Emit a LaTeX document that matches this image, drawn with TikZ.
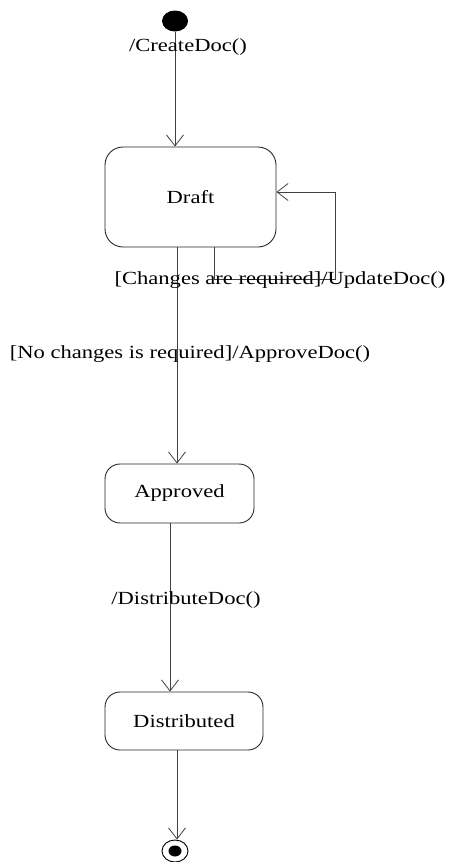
\documentclass[tikz,border=0pt]{standalone}
\usepackage{fontspec}
\setmainfont{Liberation Serif}[FakeStretch=1.22]
\usetikzlibrary{arrows.meta,calc,shapes.geometric}

\tikzset{
  statebox/.style={draw=black!85, line width=0.9pt, rounded corners=16pt,
    inner sep=0pt, font=\fontsize{18.5}{22}\selectfont},
  lbl/.style={inner sep=0pt, font=\fontsize{18.5}{22}\selectfont},
  conn/.style={draw=black!75, line width=0.8pt},
  arr/.style={conn, -{Straight Barb[length=11pt,width=17pt,line width=0.8pt]}},
}

\begin{document}
\begin{tikzpicture}[x=1pt,y=-1pt]
  \useasboundingbox (0,0) rectangle (448,862);

  % pseudo-states
  \node[ellipse, fill=black, minimum width=26pt, minimum height=21pt, inner sep=0pt] (init) at (175,21) {};
  \node[ellipse, draw=black, line width=0.9pt, minimum width=26pt, minimum height=22pt, inner sep=0pt] (final) at (175,851) {};
  \node[ellipse, fill=black, minimum width=13pt, minimum height=11pt, inner sep=0pt] (finaldot) at (final.center) {};

  % states
  \node[statebox, minimum width=171pt, minimum height=100pt, rounded corners=18pt] (draft) at (190.5,197) {Draft};
  \node[statebox, minimum width=149pt, minimum height=59pt, rounded corners=15pt] (approved) at (179.5,493.5) {Approved};
  \node[statebox, minimum width=158pt, minimum height=58pt, rounded corners=15pt] (distributed) at (184,721) {Distributed};

  % transitions
  \draw[arr] (init.south) -- (init.south |- draft.north);
  \draw[arr] ([xshift=-13.5pt]draft.south) -- ([xshift=-13.5pt]draft.south |- approved.north);
  \coordinate (loopc) at (335,279);
  \draw[arr] ([xshift=23.5pt]draft.south) |- (loopc) |- ([yshift=5pt]draft.east);
  \draw[arr] ([xshift=-9.5pt]approved.south) -- ([xshift=-9.5pt]approved.south |- distributed.north);
  \draw[arr] ([xshift=-7pt]distributed.south) -- ([xshift=-7pt]distributed.south |- final.north);

  % transition labels
  \node[lbl] (createlbl) at (188,47) {/CreateDoc()};
  \node[lbl, anchor=base] (changeslbl) at (280,284) {[Changes are required]/UpdateDoc()};
  \node[lbl] (nochlbl) at (190,354) {[No changes is required]/ApproveDoc()};
  \node[lbl] (distlbl) at (186,600) {/DistributeDoc()};
\end{tikzpicture}
\end{document}
